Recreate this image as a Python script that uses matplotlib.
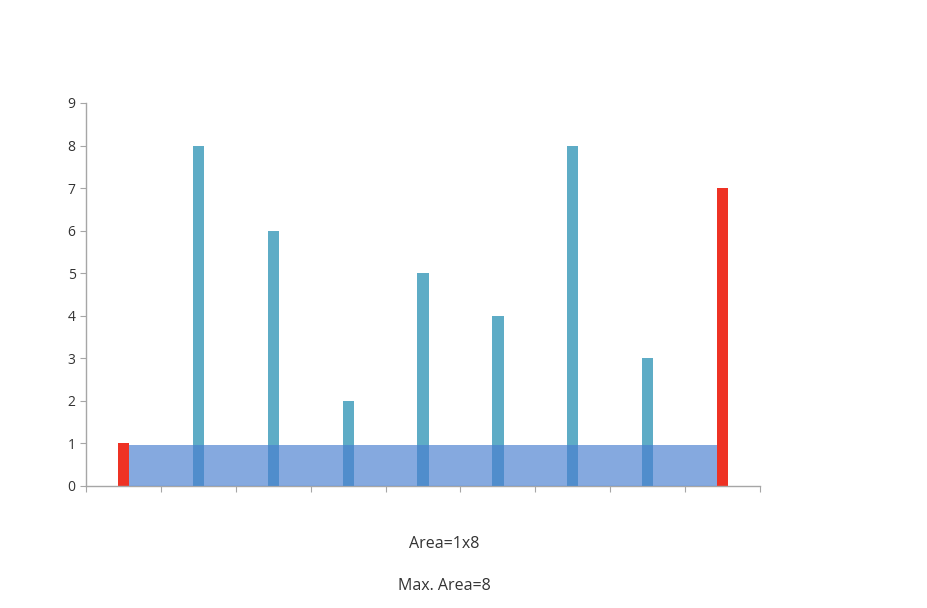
import matplotlib
matplotlib.use('Agg')
from matplotlib import pyplot as plt
from matplotlib.patches import Rectangle
import numpy as np

heights = [1, 8, 6, 2, 5, 4, 8, 3, 7]
left_idx = 0
right_idx = 8
area_label = 'Area=1x8'
max_label = 'Max. Area=8'

colorbar = '#5eacc6'
colorred = '#ee3224'
colorarea = '#4a7fd0'
barwidth = 0.15

plt.rcParams['font.family'] = ['Open Sans', 'DejaVu Sans']

fig = plt.figure(figsize=(9.27, 6.08), dpi=100)
ax = fig.add_axes([0.0928, 0.2007, 0.7271, 0.6299])

x = np.arange(len(heights)) + 0.5
colors = [colorred if i in (left_idx, right_idx) else colorbar for i in range(len(heights))]
ax.bar(x, heights, width=barwidth, color=colors, zorder=2)

# water area between the two chosen walls
x0 = x[left_idx] + barwidth / 2
x1 = x[right_idx] - barwidth / 2
h = min(heights[left_idx], heights[right_idx])
ax.add_patch(Rectangle((x0, 0), x1 - x0, h * 0.97, color=colorarea, alpha=0.67, lw=0, zorder=3))

ax.set_xlim(0, len(heights))
ax.set_ylim(0, 9)
ax.set_yticks(range(10))
ax.set_xticks(range(len(heights) + 1))
ax.set_xticklabels([])
for s in ['top', 'right']:
    ax.spines[s].set_visible(False)
for s in ['left', 'bottom']:
    ax.spines[s].set_color('#a6a6a6')
    ax.spines[s].set_linewidth(1.0)
ax.tick_params(axis='both', colors='#a6a6a6', length=4, labelcolor='#333333', labelsize=10)

fig.text(0.479, 0.105, area_label, ha='center', va='center', fontsize=11.5, color='#333333')
fig.text(0.479, 0.036, max_label, ha='center', va='center', fontsize=11.5, color='#333333')

fig.savefig('out.png', dpi=100)
